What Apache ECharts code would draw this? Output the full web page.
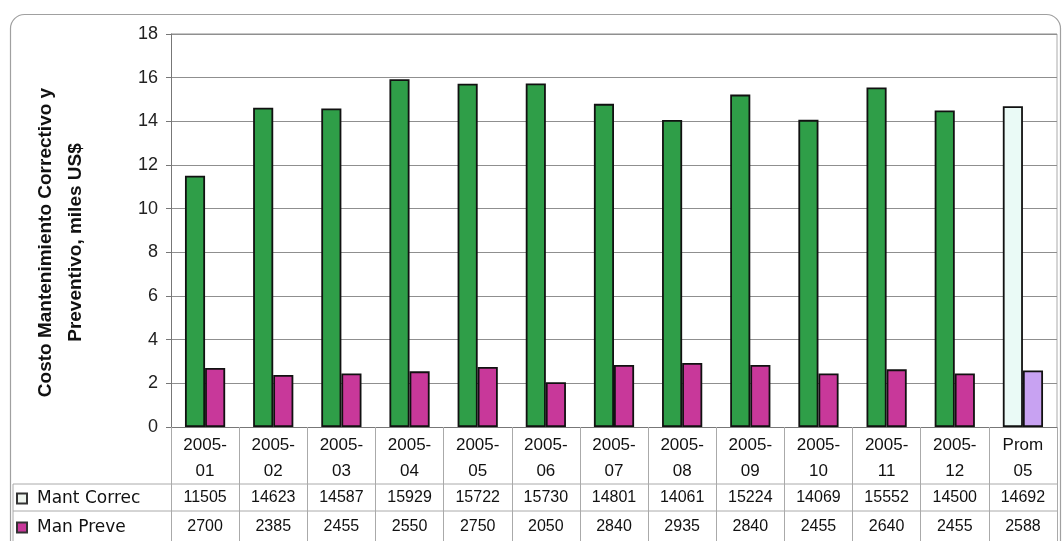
<!DOCTYPE html>
<html>
<head>
<meta charset="utf-8">
<style>
  html, body { margin: 0; padding: 0; background: #ffffff; }
  #chart { width: 1064px; height: 541px; }
</style>
<script src="https://cdn.jsdelivr.net/npm/echarts@6/dist/echarts.min.js"></script>
</head>
<body>
<div id="chart"></div>
<script>
// Monthly maintenance cost, 2005 (US$), plus the yearly average column
const categories = ['2005-\n01', '2005-\n02', '2005-\n03', '2005-\n04', '2005-\n05', '2005-\n06',
  '2005-\n07', '2005-\n08', '2005-\n09', '2005-\n10', '2005-\n11', '2005-\n12', 'Prom\n05'];
const mantCorrec = [11505, 14623, 14587, 15929, 15722, 15730, 14801, 14061, 15224, 14069, 15552, 14500, 14692];
const manPreve = [2700, 2385, 2455, 2550, 2750, 2050, 2840, 2935, 2840, 2455, 2640, 2455, 2588];
const yTicks = [0, 2, 4, 6, 8, 10, 12, 14, 16, 18];
const seriesNames = ['Mant Correc', 'Man Preve'];

const green = '#2f9e48', magenta = '#c8389a';
const avgGreen = '#eafaf6', avgMagenta = '#c8a2f2';
const lastIdx = categories.length - 1;

// bars are plotted in thousands of US$
function toBars(values, color, lastColor) {
  return values.map((v, i) => ({
    value: v / 1000,
    itemStyle: { color: i === lastIdx ? lastColor : color }
  }));
}

const font = 'Liberation Sans, Arial, sans-serif';
const chart = echarts.init(document.getElementById('chart'));

const hiddenAxisBase = {
  type: 'category', data: categories, position: 'bottom', boundaryGap: true,
  axisLine: { show: false }, axisTick: { show: false }, splitLine: { show: false }
};

// one legend per table row, so each key sits in front of its own row
function rowLegend(top, name, style) {
  return {
    left: 16, top: top, itemWidth: 10, itemHeight: 10, icon: 'rect', padding: 0,
    textStyle: { fontFamily: '"DejaVu Sans", sans-serif', fontSize: 17, color: '#111', padding: [0, 0, 0, 5] },
    data: [{ name: name, itemStyle: style }]
  };
}

chart.setOption({
  animation: false,
  grid: { left: 171, right: 7, top: 34, bottom: 114, containLabel: false },
  legend: [
    rowLegend(490, seriesNames[0], { color: '#eef4ee', borderColor: '#333', borderWidth: 2 }),
    rowLegend(519, seriesNames[1], { color: magenta, borderColor: '#333', borderWidth: 2 })
  ],
  xAxis: [
    {
      type: 'category', data: categories, position: 'bottom', boundaryGap: true,
      axisLine: { show: true, lineStyle: { color: '#777', width: 1 } },
      axisTick: { show: true, interval: 0, length: 114, lineStyle: { color: '#aaa', width: 1 } },
      axisLabel: { interval: 0, margin: 5, fontSize: 17, lineHeight: 26, color: '#111', fontFamily: font }
    },
    Object.assign({}, hiddenAxisBase, {
      offset: 57,
      axisLabel: { interval: 0, margin: 6, fontSize: 16, color: '#111', fontFamily: font,
        formatter: (v, i) => String(mantCorrec[i]) }
    }),
    Object.assign({}, hiddenAxisBase, {
      offset: 84,
      axisLabel: { interval: 0, margin: 8, fontSize: 16, color: '#111', fontFamily: font,
        formatter: (v, i) => String(manPreve[i]) }
    })
  ],
  yAxis: {
    type: 'value', min: yTicks[0], max: yTicks[yTicks.length - 1], interval: 2,
    name: 'Costo Mantenimiento Correctivo y\nPreventivo, miles US$',
    nameLocation: 'middle', nameRotate: 90, nameGap: 80,
    nameTextStyle: { fontSize: 19, fontWeight: 'bold', lineHeight: 30, color: '#111', fontFamily: font,
      padding: [0, 24, 0, 0] },
    axisLine: { show: true, lineStyle: { color: '#777', width: 1 } },
    axisTick: { show: true, length: 5, lineStyle: { color: '#777' } },
    axisLabel: { fontSize: 18, margin: 13, color: '#222', fontFamily: font },
    splitLine: { show: true, lineStyle: { color: '#8f8f8f', width: 1 } }
  },
  series: [
    {
      name: seriesNames[0], type: 'bar', xAxisIndex: 0, barGap: '0%', barCategoryGap: '41%',
      itemStyle: { color: green, borderColor: '#111', borderWidth: 1.8 },
      data: toBars(mantCorrec, green, avgGreen)
    },
    {
      name: seriesNames[1], type: 'bar', xAxisIndex: 0, barGap: '0%', barCategoryGap: '41%',
      itemStyle: { color: magenta, borderColor: '#111', borderWidth: 1.8 },
      data: toBars(manPreve, magenta, avgMagenta)
    }
  ],
  graphic: [
    // rounded chart frame
    { type: 'rect', left: 8, top: 12, shape: { width: 1050, height: 600, r: 14 },
      style: { fill: 'none', stroke: '#a0a0a0', lineWidth: 1.2 }, z: -1 },
    // data table rules
    { type: 'line', shape: { x1: 13, y1: 484, x2: 1057, y2: 484 }, style: { stroke: '#aaa', lineWidth: 1 } },
    { type: 'line', shape: { x1: 13, y1: 511, x2: 1057, y2: 511 }, style: { stroke: '#aaa', lineWidth: 1 } },
    { type: 'line', shape: { x1: 13, y1: 484, x2: 13, y2: 541 }, style: { stroke: '#aaa', lineWidth: 1 } },
    { type: 'line', shape: { x1: 171, y1: 34, x2: 1057, y2: 34 }, style: { stroke: '#8f8f8f', lineWidth: 1 } },
    { type: 'line', shape: { x1: 1057, y1: 34, x2: 1057, y2: 427 }, style: { stroke: '#aaa', lineWidth: 1 } }
  ]
});
</script>
</body>
</html>
